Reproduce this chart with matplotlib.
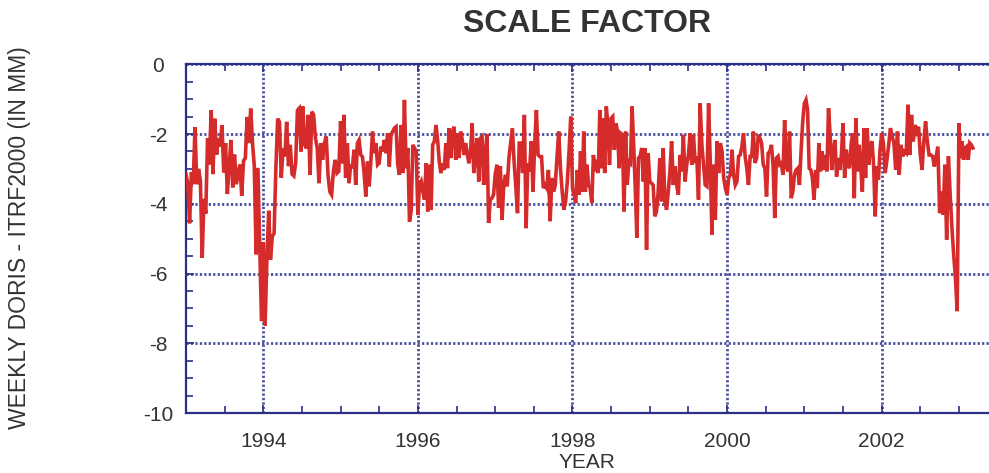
import matplotlib
matplotlib.use("Agg")
import matplotlib.pyplot as plt
import numpy as np
from matplotlib.ticker import MultipleLocator

# weekly DORIS - ITRF2000 scale factor (mm)
scale_1993 = [-3.15, -3.44, -4.56, -3.1, -3.44, -1.8, -3.44, -3.0, -3.34, -5.55, -3.86, -4.28,
              -2.12, -2.87, -1.32, -3.15, -1.56, -2.59, -2.12, -2.36, -1.75, -3.1, -2.26, -3.72,
              -2.92, -2.17, -3.53, -2.59, -3.44, -3.15, -2.87, -3.77, -2.77, -2.69, -1.51, -2.26,
              -1.27, -2.26, -2.92, -5.45, -2.97, -5.22, -7.37]
scale_1994 = [-5.1, -7.49, -5.6, -4.2, -5.6, -4.94, -4.85, -2.97, -1.56, -1.65, -3.25, -2.41,
              -2.64, -1.65, -2.92, -2.31, -3.15, -3.2, -2.83, -1.32, -1.26, -2.5, -1.21, -2.31,
              -2.41, -1.45, -3.17, -1.36, -1.45, -2.12, -2.4, -3.41, -2.26, -2.74, -2.26, -2.07,
              -3.17, -3.65, -3.74, -3.07, -2.74, -3.12, -3.07]
scale_1995 = [-1.64, -2.84, -1.45, -3.26, -2.26, -3.41, -2.88, -2.98, -2.45, -3.46, -2.26, -2.17,
              -2.6, -2.65, -3.12, -3.79, -2.79, -3.5, -2.79, -1.93, -2.55, -2.26, -2.88, -2.83,
              -2.36, -2.5, -2.17, -2.55, -1.98, -2.93, -2.02, -1.93, -1.83, -1.79, -2.88, -3.17,
              -1.74, -3.12, -1.02, -2.98, -2.4, -4.51, -4.2, -2.31, -2.4, -2.5]
scale_1996 = [-4.31, -3.46, -3.36, -3.65, -3.88, -2.84, -4.22, -2.88, -4.17, -2.31, -2.21, -1.74,
              -2.17, -2.79, -3.12, -2.84, -3.03, -2.26, -2.98, -1.83, -2.69, -1.93, -1.79, -2.74,
              -1.98, -2.69, -1.93, -2.17, -2.6, -2.26, -2.55, -2.84, -2.5, -1.69, -3.12, -2.64,
              -2.12, -3.36, -2.12, -2.07, -3.46, -2.6, -2.0, -4.55, -3.88, -3.84, -3.74]
scale_1997 = [-3.17, -2.88, -4.12, -2.93, -4.46, -3.46, -3.17, -3.5, -2.69, -2.26, -1.83, -2.79,
              -3.5, -4.27, -2.26, -2.26, -3.12, -1.45, -4.7, -2.84, -3.07, -2.21, -3.65, -2.31,
              -1.31, -2.6, -2.65, -2.65, -3.55, -3.46, -3.55, -3.03, -4.5, -3.26, -3.65, -3.46,
              -2.65, -1.93, -2.98, -3.65, -4.17, -3.93, -3.36, -2.5, -1.5]
scale_1998 = [-3.55, -3.74, -3.98, -3.03, -3.74, -2.5, -3.65, -1.93, -3.65, -2.88, -3.46, -3.55,
              -3.98, -2.6, -3.07, -2.74, -3.12, -1.31, -2.98, -1.55, -3.12, -1.21, -1.74, -2.88,
              -1.55, -1.5, -2.45, -1.69, -1.93, -2.98, -1.98, -2.02, -4.22, -1.93, -3.46, -2.79,
              -2.84, -1.21, -2.31, -3.55, -4.98, -2.69, -2.64, -2.4, -3.36, -2.4, -5.32, -2.55]
scale_1999 = [-3.36, -3.41, -3.46, -4.36, -4.22, -3.65, -2.69, -3.93, -2.4, -3.93, -4.17, -3.65,
              -3.07, -2.21, -3.46, -2.93, -3.46, -3.74, -2.6, -3.07, -2.02, -3.36, -2.88, -2.6,
              -1.98, -2.88, -2.02, -2.83, -2.64, -3.88, -1.12, -2.31, -2.88, -3.46, -3.5, -1.12,
              -2.79, -4.89, -2.88, -4.46, -2.21, -3.12, -2.26, -2.5, -3.26, -3.55]
scale_2000 = [-3.74, -3.26, -3.17, -2.45, -3.17, -3.46, -3.36, -2.64, -2.6, -2.36, -1.98, -2.64,
              -2.98, -3.46, -2.64, -2.64, -1.93, -2.83, -2.69, -2.02, -2.12, -2.26, -2.88, -2.98,
              -3.79, -2.55, -2.5, -2.31, -2.93, -4.41, -2.69, -2.64, -2.88, -2.84, -3.17, -1.6,
              -2.93, -3.07, -1.93, -3.84, -3.65, -3.17, -3.03, -2.98, -3.46, -2.5, -1.64]
scale_2001 = [-1.12, -1.02, -1.31, -2.98, -3.03, -3.26, -3.88, -3.03, -3.55, -2.26, -3.07, -2.5,
              -3.03, -2.6, -3.07, -1.26, -2.02, -3.03, -2.5, -2.17, -3.22, -2.69, -3.03, -2.6,
              -1.69, -3.26, -2.45, -2.88, -2.98, -2.31, -1.98, -3.84, -1.55, -3.07, -2.31, -2.93,
              -3.65, -1.83, -3.26, -1.83, -2.88, -2.31, -2.21, -2.88, -4.36, -2.93, -3.31, -2.45]
scale_2002 = [-1.98, -2.26, -3.12, -2.74, -2.31, -1.83, -2.07, -2.26, -3.03, -1.93, -3.17, -2.31,
              -2.64, -2.5, -2.55, -1.16, -2.6, -1.45, -2.21, -1.74, -1.93, -1.79, -2.6, -3.03,
              -2.21, -1.64, -2.21, -2.6, -2.6, -2.64, -2.93, -2.64, -2.36, -4.27, -3.65, -4.31,
              -2.88, -5.03, -2.64, -3.74, -4.69, -5.46, -6.13, -7.08]
scale_2003 = [-1.69, -2.69, -2.21, -2.74, -2.4, -2.36, -2.74, -2.26, -2.31, -2.4]
last_epoch = 2003.18

x_ticks = [1994, 1996, 1998, 2000, 2002]
y_ticks = [0, -2, -4, -6, -8, -10]

yearly = [scale_1993, scale_1994, scale_1995, scale_1996, scale_1997, scale_1998,
          scale_1999, scale_2000, scale_2001, scale_2002]
t_parts, v_parts = [], []
for k, vals in enumerate(yearly):
    y0 = 1993 + k
    t_parts.append(np.linspace(y0, y0 + 1, len(vals), endpoint=False))
    v_parts.append(np.array(vals))
t_parts.append(np.linspace(2003.0, last_epoch, len(scale_2003)))
v_parts.append(np.array(scale_2003))
t = np.concatenate(t_parts)
v = np.concatenate(v_parts)

plt.rcParams['font.family'] = ['Liberation Sans', 'DejaVu Sans']

navy = '#2b2f86'
txt = '#333333'

fig = plt.figure(figsize=(9.89, 4.73), dpi=100)
ax = fig.add_axes([186 / 989, 1 - 413 / 473, (997.6 - 186) / 989, (413 - 64.3) / 473])

ax.plot(t, v, color='#d62b2b', lw=2.6, solid_joinstyle='miter', zorder=3)

ax.set_xlim(1993, 2003.5)
ax.set_ylim(-10, 0)
ax.set_xticks(x_ticks)
ax.set_yticks(y_ticks)
ax.set_yticklabels([str(y) for y in y_ticks], ha='center')
ax.xaxis.set_minor_locator(MultipleLocator(0.5))
ax.yaxis.set_minor_locator(MultipleLocator(0.5))
ax.tick_params(which='both', direction='in', top=True, bottom=True, left=True, right=False,
               color=navy, width=1.2, labelcolor=txt, labelsize=15)
ax.tick_params(which='major', length=6)
ax.tick_params(which='minor', length=5)
ax.tick_params(axis='x', pad=14)
ax.tick_params(axis='y', pad=20)

ax.grid(True, which='major', color='#4a4f9e', linestyle=(0, (0.8, 0.8)), linewidth=2.0, zorder=1)

for s in ['left', 'bottom', 'top']:
    ax.spines[s].set_color(navy)
    ax.spines[s].set_linewidth(1.6)
ax.spines['right'].set_visible(False)

fig.text(587 / 989, 1 - 24 / 473, 'SCALE FACTOR', ha='center', va='center',
         fontsize=23, fontweight='bold', color=txt)
fig.text(587 / 989, 1 - 462 / 473, 'YEAR', ha='center', va='center', fontsize=15, color=txt)
fig.text(20 / 989, 1 - 238 / 473, 'WEEKLY DORIS - ITRF2000 (IN MM)', ha='center', va='center',
         rotation=90, fontsize=16.5, color=txt)

fig.savefig('out.png', dpi=100)
